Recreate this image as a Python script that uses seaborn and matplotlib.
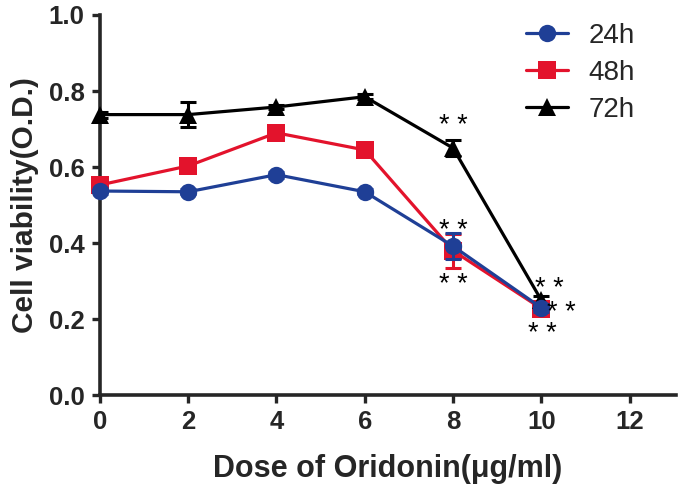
import matplotlib
matplotlib.use("Agg")
import matplotlib.pyplot as plt
import numpy as np
import pandas as pd
import seaborn as sns

# values
dose = [0, 2, 4, 6, 8, 10]
via_24h = [0.537, 0.535, 0.580, 0.535, 0.392, 0.230]
via_48h = [0.553, 0.603, 0.690, 0.645, 0.380, 0.228]
via_72h = [0.738, 0.738, 0.758, 0.785, 0.650, 0.250]
err_24h = [0.008, 0.006, 0.008, 0.006, 0.035, 0.010]
err_48h = [0.010, 0.008, 0.008, 0.008, 0.045, 0.010]
err_72h = [0.008, 0.032, 0.006, 0.006, 0.022, 0.010]
groups = ["24h", "48h", "72h"]
colors = ["#1f3f96", "#e3132c", "#000000"]
markers = ["o", "s", "^"]
draw_order = {"48h": 3, "72h": 4, "24h": 5}

df = pd.DataFrame({
    "dose": dose * 3,
    "viability": via_24h + via_48h + via_72h,
    "err": err_24h + err_48h + err_72h,
    "group": np.repeat(groups, len(dose)),
})

sns.set_style("ticks")
plt.rcParams["font.family"] = ["Liberation Sans", "DejaVu Sans"]

fig = plt.figure(figsize=(6.8, 4.99), dpi=100)
ax = fig.add_axes([0.147, 0.208, 0.847, 0.762])

for g, c, m in zip(groups, colors, markers):
    sub = df[df["group"] == g]
    z = draw_order[g]
    ax.errorbar(sub["dose"], sub["viability"], yerr=sub["err"], fmt="none",
                ecolor=c, elinewidth=2.2, capsize=5.5, capthick=2.2, zorder=z)
    sns.lineplot(data=sub, x="dose", y="viability", color=c, marker=m,
                 markersize=12.5, markeredgewidth=0, linewidth=2.3,
                 label=g, ax=ax, zorder=z, clip_on=False)

# significance marks (offsets in points from the data point)
stars = [("72h", 8, 0, 16), ("24h", 8, 0, 11), ("48h", 8, 0, -25),
         ("72h", 10, 6, 8), ("24h", 10, 14.5, -3.5), ("48h", 10, 0.5, -18.5)]
for g, x, dx, dy in stars:
    y = df[(df["group"] == g) & (df["dose"] == x)]["viability"].iloc[0]
    ax.annotate("* *", (x, y), xytext=(dx, dy), textcoords="offset points",
                ha="center", va="center", fontsize=19.5, color="black", zorder=6)

ax.set_xlim(0, 13.05)
ax.set_ylim(0, 1.0)
ax.set_xticks([0, 2, 4, 6, 8, 10, 12])
ax.set_yticks([0.0, 0.2, 0.4, 0.6, 0.8, 1.0])
ax.set_yticklabels(["0.0", "0.2", "0.4", "0.6", "0.8", "1.0"])
for lab in ax.get_xticklabels() + ax.get_yticklabels():
    lab.set_fontweight("bold")
ax.tick_params(axis="both", direction="out", length=6, width=2.4,
               labelsize=18.5, pad=5)
sns.despine(ax=ax)
for s in ["left", "bottom"]:
    ax.spines[s].set_linewidth(2.6)

ax.set_xlabel("Dose of Oridonin(\u03bcg/ml)", fontsize=22, fontweight="bold", labelpad=14)
ax.set_ylabel("Cell viability(O.D.)", fontsize=21.5, fontweight="bold", labelpad=7)

h, l = ax.get_legend_handles_labels()
ax.legend(h, l, loc="upper left", bbox_to_anchor=(0.74, 0.98), frameon=False,
          fontsize=20, handlelength=1.5, handletextpad=0.75, labelspacing=0.4,
          borderaxespad=0, borderpad=0)

fig.savefig("out.png", dpi=100)
